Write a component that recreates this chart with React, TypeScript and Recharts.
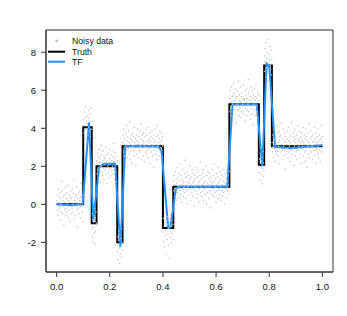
import React from "react";
import {
  ComposedChart,
  Line,
  Scatter,
  XAxis,
  YAxis,
  ReferenceArea,
} from "recharts";

// step function: segment boundaries and levels
const truthKnots = [0, 0.1, 0.132, 0.15, 0.228, 0.248, 0.4, 0.439, 0.65, 0.761, 0.781, 0.81, 1.0];
const truthLevels = [0, 4.05, -1, 2, -2, 3.05, -1.25, 0.92, 5.27, 2.08, 7.3, 3.05];

// trend filtering fit (vertices)
const tfX = [0, 0.05, 0.098, 0.122, 0.138, 0.16, 0.178, 0.22, 0.24, 0.258, 0.3, 0.383, 0.395, 0.42, 0.428, 0.449, 0.465, 0.642, 0.662, 0.753, 0.774, 0.79, 0.8, 0.822, 0.88, 1.0];
const tfY = [0.02, -0.05, 0.02, 4.3, -0.85, 1.95, 2.12, 2.14, -2.25, 3.05, 3.08, 3.05, 2.8, -1.25, -1.22, 0.84, 0.92, 0.92, 5.27, 5.27, 2.0, 7.4, 7.25, 3.03, 2.95, 3.12];

// noise around the truth, one list of residuals per truth segment
const noiseSegments: number[][] = [
  [0.2, 0.5, -0.3, -0.6, 0.1, 0.8, 0.4, -0.2, -0.1, 0.6, -0.8, 0.3, 0.0, -0.4, 1.2, 0.7, -0.5, 0.2, -0.1, 0.4, -1.1, 0.5, 0.1, -0.3, 0.9, -0.6, -0.2, 0.3, 0.6, -0.4, 0.0, 1.0, -0.7, 0.2, -0.3, 0.5, 0.1, -0.9, 0.4, -0.1, 0.7, 0.3, -0.5, -0.2, 0.8, 0.0, -0.4, 0.6, 1.3, -0.8, 0.2, -0.1, 0.4, -0.6, 0.1, 0.5, -0.3, 0.9, -1.2, 0.3, -0.2, 0.0, 0.6, -0.5, 0.7, 0.2, -0.7, 0.4, -0.1, 1.1, -0.4, 0.3, 0.1, -0.9, 0.5],
  [0.4, -0.3, 0.8, 0.1, -0.6, 0.5, 1.1, -0.1, 0.3, -0.8, 0.6, 0.2, -0.4, 0.9, 0.0, 0.5, -0.2, 0.7, -0.5, 0.3, 1.0, -0.1],
  [-0.3, 0.5, -0.7, 0.2, -1.0, 0.4, -0.2, 0.8, -0.5, 0.1, -1.1, 0.3, -0.4, 0.6, 0.0],
  [0.3, -0.4, 0.7, 0.1, -0.2, 0.5, -0.6, 0.9, 0.2, -0.1, 0.4, -0.8, 0.6, 0.0, 1.1, -0.3, 0.2, -0.5, 0.8, 0.3, -0.1, -0.7, 0.5, 0.1, 0.4, -0.2, 1.0, -0.4, 0.2, 0.6, -0.9, 0.3, 0.0, 0.7, -0.3, 0.1, -0.6, 0.4, 0.9, -0.1, 0.2, -0.5, 0.6, 0.3, -0.2, 0.8, 0.0, -0.4, 0.5, 1.2, -0.7, 0.2, 0.4, -0.1, 0.7, -0.3, 0.1, 0.5, -0.8, 0.3],
  [-0.5, 0.3, -0.9, 0.1, 0.6, -0.3, -1.1, 0.4, -0.6, 0.2, -0.2, 0.7, -0.8, 0.0, -0.4],
  [0.2, 0.6, -0.3, 0.9, -0.5, 0.1, 0.4, -0.8, 0.7, 0.0, -0.2, 1.1, 0.3, -0.6, 0.5, -0.1, 0.8, -0.4, 0.2, 1.3, -0.7, 0.4, 0.1, -0.3, 0.6, -0.9, 0.3, 0.0, 0.7, -0.2, 0.5, -0.5, 1.0, 0.2, -0.1, 0.4, -1.0, 0.6, 0.3, -0.4, 0.9, 0.1, -0.6, 0.2, 0.5, -0.2, 0.8, -0.3, 0.0, 1.2, 0.4, -0.7, 0.1, 0.6, -0.1, 0.3, -0.5, 0.7, 0.2, -0.8, 0.5, 0.0, -0.3, 0.9, 0.1, -0.4, 0.6, 0.3, -0.2, 1.0, -0.6, 0.2, 0.4, -0.1, 0.7, -0.9, 0.3, 0.5, -0.3, 0.1, 0.8, -0.5, 0.0, 0.4, -1.1, 0.6, 0.2, -0.2, 0.9, 0.3, -0.4, 0.1, 0.5, -0.7, 1.1, 0.0, -0.1, 0.6, 0.2, -0.5, 0.4, 0.8, -0.3, 0.1, -0.6, 0.3, 0.7, -0.2, 0.5, 0.0],
  [-0.2, 0.5, -0.7, 0.1, -1.0, 0.3, -0.4, 0.8, -0.1, -1.4, 0.4, -0.6, 0.2, 0.6, -0.3, -0.9, 0.0, 0.5, -1.6, 0.3, -0.5, 0.7, -0.2, 0.1, -0.8, 0.4, -0.3, 0.9, -0.6, 0.2],
  [0.3, -0.2, 0.6, 0.1, -0.5, 0.8, -0.1, 0.4, -0.7, 0.2, 1.0, -0.3, 0.5, 0.0, -0.6, 0.7, 0.3, -0.2, 1.2, -0.4, 0.1, 0.6, -0.8, 0.4, -0.1, 0.9, 0.2, -0.5, 0.3, 0.0, -0.3, 0.7, 1.4, -0.6, 0.1, 0.5, -0.2, 0.8, -0.9, 0.3, 0.0, 0.6, -0.4, 0.2, 1.1, -0.1, 0.4, -0.7, 0.5, 0.1, -0.3, 0.9, -0.5, 0.2, 0.7, -0.1, 0.3, -1.0, 0.6, 0.0, 0.4, -0.2, 1.0, -0.6, 0.1, 0.5, -0.4, 0.8, 0.2, -0.8, 0.3, -0.1, 0.6, 1.3, -0.3, 0.0, 0.4, -0.5, 0.7, 0.1, -0.2, 0.9, -0.7, 0.2, 0.5, -0.1, 0.3, -0.4, 1.1, 0.0, -0.9, 0.6, 0.2, -0.3, 0.8, 0.1, -0.6, 0.4, 0.0, 0.7, -0.2, 0.3, -1.1, 0.5, 0.1, -0.4, 0.9, 0.2, -0.1, 0.6, -0.5, 0.3, 1.2, -0.3, 0.0, 0.4, -0.8, 0.7, 0.1, -0.2, 0.5, -0.6, 0.2, 1.0, -0.1, 0.3, -0.4, 0.8, 0.0, -0.7, 0.4, 0.6, -0.2, 0.1, -0.5, 0.9, 0.3, -0.3, 0.5, -0.9, 0.2, 0.7, -0.1, 0.4, 1.5, -0.6, 0.0, 0.3, -0.2, 0.6, 0.1, -0.4, 0.8],
  [0.3, -0.4, 0.7, 0.1, -0.2, 0.9, -0.6, 0.4, 0.0, -0.8, 0.5, 1.1, -0.3, 0.2, 0.6, -0.5, 0.8, -0.1, 0.3, -1.0, 0.4, 0.0, 0.7, -0.3, 1.2, -0.6, 0.2, 0.5, -0.2, 0.9, 0.1, -0.7, 0.4, -0.4, 0.6, 0.0, -0.1, 1.0, -0.5, 0.3, 0.2, -0.9, 0.7, -0.2, 0.5, 0.1, -0.6, 0.8, 0.3, -0.3, 0.0, 1.3, -0.4, 0.6, -0.1, 0.2, -0.8, 0.4, 0.9, -0.2, 0.1, -0.5, 0.7, 0.3, -1.1, 0.5, 0.0, -0.3, 0.8, 0.2, -0.6, 0.4, 1.0, -0.1, 0.3, -0.4, 0.6, -0.7, 0.2, 0.5],
  [-0.4, 0.3, -0.8, 0.6, -0.1, 0.9, -0.5, 0.2, -1.0, 0.4, -0.2, 0.7, -0.6, 0.1, -0.3],
  [0.5, -0.3, 0.9, 0.2, -0.6, 1.2, 0.4, -0.1, 0.7, -0.8, 1.4, 0.1, -0.4, 0.6, 0.3, -0.9, 1.0, 0.0, -0.2, 0.8, -0.5, 0.3],
  [0.2, -0.3, 0.6, 0.0, -0.6, 0.4, 0.9, -0.1, 0.3, -0.8, 0.5, 0.1, -0.4, 1.1, -0.2, 0.7, 0.2, -0.5, 0.0, 0.8, -0.9, 0.3, 0.5, -0.1, 0.6, -0.3, 1.2, 0.1, -0.7, 0.4, -0.2, 0.9, 0.0, -0.5, 0.3, 0.7, -1.2, 0.2, 0.5, -0.4, 0.1, 0.8, -0.1, 0.4, -0.6, 1.0, 0.3, -0.3, 0.0, 0.6, -0.8, 0.2, 0.5, -0.2, 1.3, -0.4, 0.1, 0.7, -0.1, 0.3, -1.0, 0.5, 0.0, 0.9, -0.5, 0.2, 0.4, -0.3, 0.6, -0.7, 0.1, 1.1, -0.2, 0.3, 0.0, -0.6, 0.8, 0.4, -0.4, 0.2, 0.5, -0.9, 0.7, -0.1, 0.3, 0.0, 1.0, -0.5, 0.2, 0.6, -0.3, 0.4, -0.8, 0.1, 0.9, -0.2, 0.5, -1.1, 0.3, 0.0, 0.7, -0.4, 0.2, 1.2, -0.6, 0.1, 0.4, -0.1, 0.8, -0.3, 0.5, 0.0, -0.7, 0.6, 0.2, -0.2, 0.3, 1.0, -0.5, 0.1, 0.4, -0.9, 0.7, -0.1, 0.2, 0.5, -0.4, 0.9, 0.0, -0.6, 0.3, 0.6, -0.2, 0.1, -0.8, 0.4, 1.1, -0.3, 0.2, 0.5],
];

const xTicks = [0, 0.2, 0.4, 0.6, 0.8, 1.0];
const yTicks = [-2, 0, 2, 4, 6, 8];
const xDomain = [-0.04, 1.04];
const yDomain = [-3.56, 9.17];

const FONT = "'Liberation Sans', Arial, Helvetica, sans-serif";
const BLUE = "#1E90FF";
const GRAY = "#c2c2c2";

const truthData = truthLevels.flatMap((v, i) => [
  { x: truthKnots[i], y: v },
  { x: truthKnots[i + 1], y: v },
]);

const tfData = tfX.map((x, i) => ({ x, y: tfY[i] }));

// observations spread evenly across each segment
const noisyData = noiseSegments.flatMap((seg, i) => {
  const a = truthKnots[i];
  const w = truthKnots[i + 1] - a;
  return seg.map((r, j) => ({
    x: a + ((j + 0.5) / seg.length) * w,
    y: truthLevels[i] + r,
  }));
});

const Dot = (props: any) => {
  const { cx, cy } = props;
  if (cx == null || cy == null) return <g />;
  return <circle cx={cx} cy={cy} r={0.75} fill={GRAY} />;
};

const tickStyle = { fontSize: 9.5, fill: "#111", fontFamily: FONT };

export default function App() {
  return (
    <div
      style={{
        position: "absolute",
        left: 0,
        top: 0,
        width: 347,
        height: 316,
        background: "#fff",
        fontFamily: FONT,
      }}
    >
      <ComposedChart
        width={347}
        height={316}
        margin={{ top: 30, right: 14, bottom: 14, left: 10 }}
      >
        <XAxis
          dataKey="x"
          type="number"
          domain={xDomain}
          allowDataOverflow
          ticks={xTicks}
          tickFormatter={(v: number) => v.toFixed(1)}
          height={30}
          tickSize={5}
          tickMargin={6}
          stroke="#333"
          tick={tickStyle}
        />
        <YAxis
          dataKey="y"
          type="number"
          domain={yDomain}
          allowDataOverflow
          ticks={yTicks}
          width={36}
          tickSize={5}
          tickMargin={5}
          stroke="#333"
          tick={tickStyle}
        />
        <ReferenceArea
          x1={xDomain[0]}
          x2={xDomain[1]}
          y1={yDomain[0]}
          y2={yDomain[1]}
          fill="none"
          fillOpacity={0}
          stroke="#333"
          strokeWidth={1}
        />
        <Scatter
          data={noisyData}
          dataKey="y"
          fill={GRAY}
          shape={Dot}
          isAnimationActive={false}
        />
        <Line
          data={truthData}
          dataKey="y"
          type="linear"
          stroke="#000"
          strokeWidth={2}
          dot={false}
          activeDot={false}
          isAnimationActive={false}
        />
        <Line
          data={tfData}
          dataKey="y"
          type="linear"
          stroke={BLUE}
          strokeWidth={2}
          dot={false}
          activeDot={false}
          isAnimationActive={false}
        />
      </ComposedChart>
      <svg
        width={347}
        height={316}
        style={{ position: "absolute", left: 0, top: 0, pointerEvents: "none" }}
      >
        <g fontFamily={FONT} fontSize={8.7} fill="#111">
          <circle cx={56.7} cy={41} r={1.4} fill={GRAY} />
          <text x={72} y={41} dominantBaseline="central">Noisy data</text>
          <line x1={48} x2={65} y1={51.7} y2={51.7} stroke="#000" strokeWidth={2} />
          <text x={72} y={51.7} dominantBaseline="central">Truth</text>
          <line x1={48} x2={65} y1={61.7} y2={61.7} stroke={BLUE} strokeWidth={2} />
          <text x={72} y={61.7} dominantBaseline="central">TF</text>
        </g>
      </svg>
    </div>
  );
}
